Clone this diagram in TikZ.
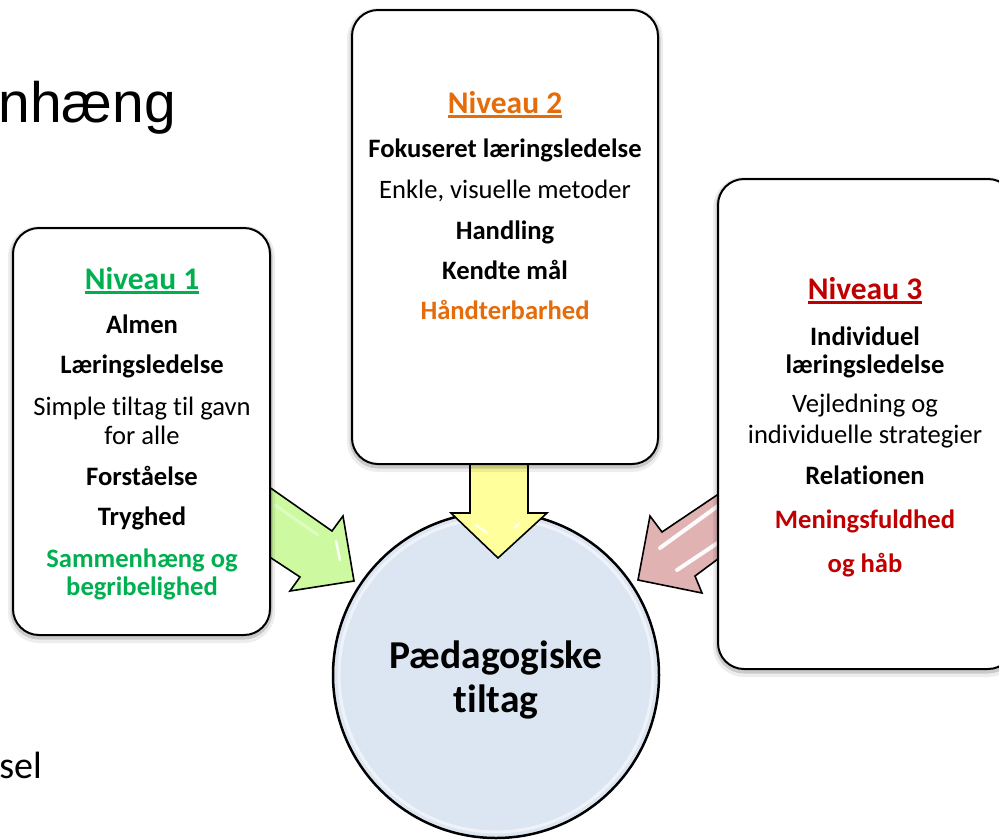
\documentclass[tikz,border=0pt]{standalone}
\usepackage{fontspec}
\setmainfont{Carlito}[Ligatures=NoCommon]
\newfontfamily\arialfont{Liberation Sans}
\definecolor{lvlgreen}{RGB}{0,176,80}
\definecolor{lvlorange}{RGB}{228,108,10}
\definecolor{lvlred}{RGB}{192,0,0}
\definecolor{arrgreen}{RGB}{205,250,160}
\definecolor{arryellow}{RGB}{255,255,155}
\definecolor{arrred}{RGB}{224,178,178}
\definecolor{hubfill}{RGB}{220,230,242}
% underlined heading with a rule set just below the baseline
\newcommand\levelhead[1]{\setbox0\hbox{#1}\rlap{\vrule height -2pt depth 4.6pt width \wd0}\box0}

\begin{document}
\begin{tikzpicture}[x=1pt,y=-1pt,
  card/.style={draw=black, line width=2pt, fill=white, rounded corners=26pt, inner sep=0pt,
    preaction={draw=black, opacity=0.07, line width=10pt, transform canvas={yshift=-3pt}},
    preaction={draw=black, opacity=0.15, line width=5pt, transform canvas={yshift=-2pt}}},
  hubnode/.style={circle, draw=black, line width=2.5pt, fill=hubfill, inner sep=0pt},
  blockarrow/.style={draw=black, line width=1.6pt, line join=miter},
  gloss/.style={white, line cap=round},
  body/.style={anchor=base, inner sep=0pt, font=\fontsize{26.6}{30}\selectfont},
  bodyb/.style={body, font=\fontsize{26.6}{30}\selectfont\bfseries},
  head/.style={anchor=base, inner sep=0pt, font=\fontsize{31.5}{36}\selectfont\bfseries},
  hubtext/.style={anchor=base, inner sep=0pt, font=\fontsize{39.5}{44}\selectfont\bfseries}
]
\useasboundingbox (0,0) rectangle (999,839);
\clip (0,0) rectangle (999,839);

% central circle
\node[hubnode, minimum size=326pt] (hub) at (496,675) {};
\draw[white, opacity=0.55, line width=3pt] (hub.center) circle (157);
\node[hubtext] (hubA) at (496,668) {Pædagogiske};
\node[hubtext] (hubB) at (496,712) {tiltag};

% block arrows pointing into the circle
\draw[blockarrow, fill=arrgreen]
  (262,482) -- (332,531) -- (343,516) -- (354,581) -- (290,591) -- (300,577) -- (262,552) -- cycle;
\draw[gloss, opacity=0.35, line width=3pt] (275,505) -- (318,535);
\draw[gloss, opacity=0.9, line width=2.5pt] (336,541) -- (340,560);

\draw[blockarrow, fill=arryellow]
  (470,455) -- (470,513) -- (451,513) -- (498,558) -- (547,513) -- (528,513) -- (528,455) -- cycle;
\draw[gloss, opacity=0.9, line width=2pt] (476,525) -- (487,533);
\draw[gloss, opacity=0.9, line width=2pt] (520,523) -- (514,528);

\draw[blockarrow, fill=arrred]
  (726,489) -- (662,532) -- (650,516) -- (638,580) -- (702,593) -- (695,576) -- (726,553) -- cycle;
\draw[gloss, opacity=0.95, line width=4pt] (722,503) -- (660,548);
\draw[gloss, opacity=0.95, line width=4pt] (722,540) -- (677,570);

% level cards
\node[card, minimum width=257pt, minimum height=407pt] (lvlA) at (141.5,431.5) {};
\node[card, minimum width=306pt, minimum height=454pt] (lvlB) at (505,237) {};
\node[card, minimum width=296pt, minimum height=490pt] (lvlC) at (866,424) {};

% level 1
\node[head, text=lvlgreen] (a1) at (142,289) {\levelhead{Niveau 1}};
\node[bodyb] (a2) at (142,333) {Almen};
\node[bodyb] (a3) at (142,373) {Læringsledelse};
\node[body] (a4) at (142,415) {Simple tiltag til gavn};
\node[body] (a5) at (142,444) {for alle};
\node[bodyb] (a6) at (142,485) {Forståelse};
\node[bodyb] (a7) at (142,525) {Tryghed};
\node[bodyb, text=lvlgreen] (a8) at (142,567) {Sammenhæng og};
\node[bodyb, text=lvlgreen] (a9) at (142,595) {begribelighed};

% level 2
\node[head, text=lvlorange] (b1) at (505,113) {\levelhead{Niveau 2}};
\node[bodyb] (b2) at (505,157) {Fokuseret læringsledelse};
\node[body] (b3) at (505,198) {Enkle, visuelle metoder};
\node[bodyb] (b4) at (505,239) {Handling};
\node[bodyb] (b5) at (505,279) {Kendte mål};
\node[bodyb, text=lvlorange] (b6) at (505,319) {Håndterbarhed};

% level 3
\node[head, text=lvlred] (c1) at (865,299) {\levelhead{Niveau 3}};
\node[bodyb] (c2) at (865,345) {Individuel};
\node[bodyb] (c3) at (865,373) {læringsledelse};
\node[body] (c4) at (865,412) {Vejledning og};
\node[body] (c5) at (865,443) {individuelle strategier};
\node[bodyb] (c6) at (865,484) {Relationen};
\node[bodyb, text=lvlred] (c7) at (865,528) {Meningsfuldhed};
\node[bodyb, text=lvlred] (c8) at (865,572) {og håb};

% text cut at the left edge
\node[anchor=base east, inner sep=0pt, font=\arialfont\fontsize{57}{60}\selectfont] (title) at (176,122) {nhæng};
\node[anchor=base east, inner sep=0pt, font=\fontsize{38}{44}\selectfont] (tail) at (42,778) {sel};
\end{tikzpicture}
\end{document}
